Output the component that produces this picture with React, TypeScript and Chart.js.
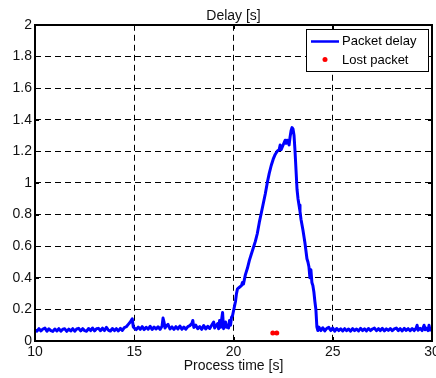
import { useEffect, useRef } from "react";
import { Chart, registerables } from "chart.js";

Chart.register(...registerables);

// Packet delay samples (time [s], delay [s])
const times = [
  10.0, 10.1, 10.2, 10.3, 10.4, 10.5, 10.6, 10.7, 10.8, 10.9,
  11.0, 11.1, 11.2, 11.3, 11.4, 11.5, 11.6, 11.7, 11.8, 11.9,
  12.0, 12.1, 12.2, 12.3, 12.4, 12.5, 12.6, 12.7, 12.8, 12.9,
  13.0, 13.1, 13.2, 13.3, 13.4, 13.5, 13.6, 13.7, 13.8, 13.9,
  14.0, 14.1, 14.2, 14.3, 14.4, 14.5, 14.6, 14.7, 14.8, 14.9, 14.95,
  15.0, 15.1, 15.2, 15.3, 15.4, 15.5, 15.6, 15.7, 15.8, 15.9,
  16.0, 16.1, 16.2, 16.3, 16.4, 16.45, 16.5, 16.55, 16.6, 16.7, 16.8, 16.9,
  17.0, 17.1, 17.2, 17.3, 17.4, 17.5, 17.6, 17.7, 17.8, 17.9, 17.95,
  18.0, 18.1, 18.2, 18.3, 18.4, 18.5, 18.6, 18.7, 18.8, 18.9,
  19.0, 19.05, 19.1, 19.2, 19.25, 19.3, 19.35, 19.45, 19.5, 19.6, 19.65, 19.7, 19.75, 19.8, 19.85, 19.9, 19.95,
  20.0, 20.05, 20.1, 20.15, 20.2, 20.3, 20.4, 20.45, 20.5, 20.6, 20.7, 20.8, 20.9,
  21.0, 21.1, 21.2, 21.3, 21.4, 21.5, 21.6, 21.7, 21.8, 21.9,
  22.0, 22.1, 22.2, 22.3, 22.35, 22.4, 22.5, 22.6, 22.65, 22.7, 22.8, 22.85, 22.9, 22.95,
  23.0, 23.05, 23.1, 23.15, 23.2, 23.25, 23.3, 23.35, 23.4, 23.5, 23.6, 23.7, 23.75, 23.8, 23.85, 23.9, 23.95,
  24.0, 24.05, 24.1, 24.15, 24.2, 24.25, 24.3, 24.4, 24.5, 24.6, 24.7, 24.8, 24.9,
  25.0, 25.1, 25.2, 25.3, 25.4, 25.5, 25.6, 25.7, 25.8, 25.9,
  26.0, 26.1, 26.2, 26.3, 26.4, 26.5, 26.6, 26.7, 26.8, 26.9,
  27.0, 27.1, 27.2, 27.3, 27.4, 27.5, 27.6, 27.7, 27.8, 27.9,
  28.0, 28.1, 28.2, 28.3, 28.4, 28.5, 28.6, 28.7, 28.8, 28.9,
  29.0, 29.1, 29.2, 29.25, 29.3, 29.4, 29.5, 29.6, 29.65, 29.7, 29.8, 29.85, 29.9,
  30.0,
];

const delays = [
  0.07, 0.062, 0.078, 0.064, 0.076, 0.082, 0.062, 0.077, 0.066, 0.061,
  0.076, 0.064, 0.078, 0.062, 0.074, 0.077, 0.061, 0.075, 0.064, 0.078,
  0.062, 0.076, 0.08, 0.064, 0.078, 0.066, 0.062, 0.079, 0.066, 0.082,
  0.064, 0.077, 0.08, 0.065, 0.081, 0.066, 0.086, 0.068, 0.063, 0.079,
  0.066, 0.078, 0.064, 0.08, 0.067, 0.084, 0.09, 0.105, 0.12, 0.14, 0.09,
  0.082, 0.072, 0.088, 0.074, 0.091, 0.072, 0.087, 0.075, 0.093, 0.073,
  0.088, 0.076, 0.09, 0.074, 0.093, 0.145, 0.12, 0.082, 0.093, 0.105, 0.076, 0.089,
  0.074, 0.091, 0.076, 0.095, 0.074, 0.088, 0.075, 0.091, 0.097, 0.11, 0.13,
  0.086, 0.1, 0.078, 0.091, 0.074, 0.098, 0.076, 0.093, 0.079, 0.1,
  0.12, 0.082, 0.093, 0.11, 0.077, 0.13, 0.087, 0.18, 0.078, 0.12, 0.087, 0.1, 0.082, 0.13, 0.1, 0.15, 0.16,
  0.19, 0.22, 0.25, 0.3, 0.33, 0.34, 0.35, 0.37, 0.36, 0.42, 0.46, 0.51, 0.55,
  0.59, 0.63, 0.68, 0.75, 0.81, 0.87, 0.93, 1.0, 1.06, 1.11,
  1.15, 1.18, 1.2, 1.21, 1.24, 1.21, 1.24, 1.27, 1.25, 1.27, 1.24, 1.29, 1.33, 1.35,
  1.34, 1.3, 1.2, 1.08, 0.96, 0.9, 0.86, 0.82, 0.77, 0.7, 0.62, 0.52, 0.5, 0.47, 0.4, 0.45, 0.37,
  0.35, 0.31, 0.25, 0.2, 0.09, 0.066, 0.088, 0.066, 0.084, 0.064, 0.08, 0.086, 0.066,
  0.082, 0.062, 0.079, 0.066, 0.077, 0.064, 0.078, 0.065, 0.076, 0.062,
  0.078, 0.066, 0.076, 0.064, 0.08, 0.066, 0.077, 0.064, 0.079, 0.066,
  0.076, 0.082, 0.065, 0.078, 0.066, 0.08, 0.064, 0.077, 0.067, 0.079,
  0.065, 0.077, 0.082, 0.066, 0.078, 0.064, 0.08, 0.067, 0.078, 0.065,
  0.079, 0.066, 0.081, 0.1, 0.068, 0.08, 0.066, 0.1, 0.071, 0.082, 0.066, 0.1, 0.07,
  0.072,
];

// Lost packets
const lostTimes = [21.98, 22.18];
const lostDelays = [0.05, 0.05];

// Axis ticks
const xTickValues = [10, 15, 20, 25, 30];
const xTickLabels = ["10", "15", "20", "25", "30"];
const yTickValues = [0, 0.2, 0.4, 0.6, 0.8, 1, 1.2, 1.4, 1.6, 1.8, 2];
const yTickLabels = ["0", "0.2", "0.4", "0.6", "0.8", "1", "1.2", "1.4", "1.6", "1.8", "2"];

const seriesNames = ["Packet delay", "Lost packet"];
const FONT = "'Liberation Sans', Arial, Helvetica, sans-serif";

const framePlugin = {
  id: "frame",
  afterDatasetsDraw(chart: any) {
    const { ctx, chartArea: a, scales } = chart;
    const l = Math.round(a.left);
    const r = Math.round(a.right);
    const t = Math.round(a.top);
    const b = Math.round(a.bottom);
    ctx.save();
    ctx.strokeStyle = "#000";
    ctx.lineWidth = 1;
    ctx.setLineDash([]);
    ctx.beginPath();
    xTickValues.forEach((v) => {
      const px = Math.round(scales.x.getPixelForValue(v)) + 0.5;
      ctx.moveTo(px, b);
      ctx.lineTo(px, b - 4);
      ctx.moveTo(px, t);
      ctx.lineTo(px, t + 4);
    });
    yTickValues.forEach((v) => {
      const py = Math.round(scales.y.getPixelForValue(v)) + 0.5;
      ctx.moveTo(l, py);
      ctx.lineTo(l + 4, py);
      ctx.moveTo(r, py);
      ctx.lineTo(r - 4, py);
    });
    ctx.stroke();
    ctx.lineWidth = 2;
    ctx.strokeRect(l, t, r - l, b - t);
    ctx.restore();
  },
};

const legendPlugin = {
  id: "boxLegend",
  afterDraw(chart: any) {
    const { ctx, chartArea: a } = chart;
    const right = Math.round(a.right) - 4;
    const top = Math.round(a.top) + 4;
    const w = 122;
    const h = 42;
    const x0 = right - w;
    ctx.save();
    ctx.fillStyle = "#fff";
    ctx.fillRect(x0, top, w, h);
    ctx.strokeStyle = "#000";
    ctx.lineWidth = 1;
    ctx.setLineDash([]);
    ctx.strokeRect(x0 + 0.5, top + 0.5, w, h);
    // line sample
    ctx.strokeStyle = "#0000ff";
    ctx.lineWidth = 2.5;
    ctx.beginPath();
    ctx.moveTo(x0 + 5, top + 12.5);
    ctx.lineTo(x0 + 33, top + 12.5);
    ctx.stroke();
    // dot sample
    ctx.fillStyle = "#ff0000";
    ctx.beginPath();
    ctx.arc(x0 + 19, top + 30.5, 2.5, 0, Math.PI * 2);
    ctx.fill();
    ctx.fillStyle = "#000";
    ctx.font = `13px ${FONT}`;
    ctx.textBaseline = "middle";
    ctx.textAlign = "left";
    ctx.fillText(seriesNames[0], x0 + 36, top + 12.5);
    ctx.fillText(seriesNames[1], x0 + 36, top + 31);
    ctx.restore();
  },
};

export default function App() {
  const ref = useRef<HTMLCanvasElement | null>(null);

  useEffect(() => {
    if (!ref.current) return;
    const lineData = times.map((t, i) => ({ x: t, y: delays[i] }));
    const lostData = lostTimes.map((t, i) => ({ x: t, y: lostDelays[i] }));
    const chart = new Chart(ref.current, {
      type: "line",
      data: {
        datasets: [
          {
            label: seriesNames[0],
            data: lineData,
            borderColor: "#0000ff",
            backgroundColor: "#0000ff",
            borderWidth: 3,
            borderJoinStyle: "round",
            pointRadius: 0,
            tension: 0,
          },
          {
            label: seriesNames[1],
            data: lostData,
            showLine: false,
            borderColor: "#ff0000",
            backgroundColor: "#ff0000",
            pointRadius: 2.5,
            pointBorderWidth: 0,
          },
        ],
      },
      plugins: [framePlugin, legendPlugin],
      options: {
        animation: false,
        responsive: false,
        devicePixelRatio: 1,
        layout: { padding: { left: 0, right: 3, top: 0, bottom: 3 } },
        plugins: {
          legend: { display: false },
          tooltip: { enabled: false },
          title: {
            display: true,
            text: "Delay [s]",
            fullSize: false,
            color: "#111",
            font: { family: FONT, size: 14, weight: "normal" },
            padding: { top: 8, bottom: 0 },
          },
        },
        scales: {
          x: {
            type: "linear",
            min: 10,
            max: 30,
            afterBuildTicks: (s: any) => {
              s.ticks = xTickValues.map((v) => ({ value: v }));
            },
            afterFit: (s: any) => {
              s.height = 34;
              s.paddingLeft = 0;
              s.paddingRight = 0;
            },
            ticks: {
              autoSkip: false,
              maxRotation: 0,
              padding: 3,
              color: "#111",
              font: { family: FONT, size: 14 },
              callback: (v: any) => {
                const i = xTickValues.indexOf(Number(v));
                return i >= 0 ? xTickLabels[i] : "";
              },
            },
            grid: { color: "#000", lineWidth: 1, drawTicks: false },
            border: { display: false, dash: [6, 4] },
            title: {
              display: true,
              text: "Process time [s]",
              color: "#111",
              font: { family: FONT, size: 14 },
              padding: { top: 0, bottom: 0 },
            },
          },
          y: {
            type: "linear",
            min: 0,
            max: 2,
            afterBuildTicks: (s: any) => {
              s.ticks = yTickValues.map((v) => ({ value: v }));
            },
            afterFit: (s: any) => {
              s.width = 35;
              s.paddingTop = 0;
              s.paddingBottom = 0;
            },
            ticks: {
              autoSkip: false,
              padding: 3,
              color: "#111",
              font: { family: FONT, size: 14 },
              callback: (v: any) => {
                const i = yTickValues.findIndex((t) => Math.abs(t - Number(v)) < 1e-9);
                return i >= 0 ? yTickLabels[i] : "";
              },
            },
            grid: { color: "#000", lineWidth: 1, drawTicks: false },
            border: { display: false, dash: [6, 4] },
          },
        },
      },
    });
    return () => chart.destroy();
  }, []);

  return (
    <div style={{ position: "fixed", left: 0, top: 0, width: 436, height: 378, background: "#fff" }}>
      <canvas ref={ref} width={436} height={378} style={{ display: "block" }} />
    </div>
  );
}
